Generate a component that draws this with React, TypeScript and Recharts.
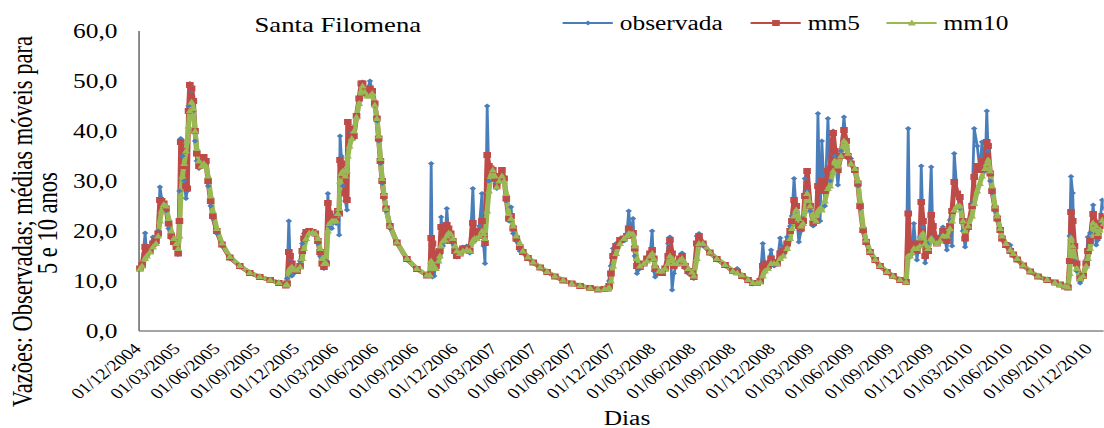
import { Line, LineChart, XAxis, YAxis } from 'recharts';

// the reference is an Excel chart stretched sideways: draw narrow, then scaleX
const S = 1.27;
const W = 1104 / S;
const H = 428;
const FONT = "'Liberation Serif', 'Times New Roman', serif";

const AZUL = '#4A7EBB';
const VERMELHO = '#BE4B48';
const VERDE = '#98B954';

// dias desde 01/12/2004
const dias = [
	0, 5, 12, 16, 23, 30, 37, 42, 46, 50,
	55, 60, 66, 72, 78, 84, 88, 91, 94, 98,
	102, 106, 109, 112, 115, 119, 123, 127, 131, 136,
	142, 147, 152, 157, 163, 168, 177, 189, 207, 230,
	253, 276, 300, 320, 336, 339, 343, 346, 350, 355,
	362, 369, 374, 378, 383, 390, 398, 404, 410, 415,
	420, 424, 429, 433, 437, 442, 447, 452, 456, 459,
	461, 464, 468, 473, 477, 479, 483, 488, 493, 499,
	505, 510, 513, 518, 523, 530, 535, 541, 546, 550,
	554, 558, 562, 567, 576, 592, 615, 638, 661, 668,
	671, 674, 678, 682, 688, 691, 694, 698, 703, 707,
	711, 716, 721, 726, 730, 737, 744, 753, 760, 767,
	771, 776, 782, 788, 792, 795, 800, 804, 808, 813,
	818, 822, 828, 834, 839, 844, 850, 855, 860, 867,
	875, 882, 894, 906, 922, 938, 956, 975, 995, 1014,
	1037, 1055, 1070, 1078, 1081, 1085, 1090, 1097, 1106, 1115,
	1122, 1126, 1131, 1136, 1140, 1145, 1152, 1161, 1168, 1175,
	1180, 1184, 1187, 1196, 1203, 1210, 1217, 1221, 1226, 1230,
	1237, 1244, 1249, 1256, 1263, 1272, 1276, 1283, 1288, 1297,
	1313, 1329, 1348, 1366, 1376, 1387, 1401, 1412, 1422, 1429,
	1435, 1440, 1447, 1454, 1461, 1468, 1475, 1482, 1491, 1498,
	1502, 1507, 1512, 1518, 1523, 1528, 1532, 1537, 1544, 1551,
	1558, 1562, 1567, 1571, 1578, 1585, 1590, 1597, 1601, 1608,
	1615, 1622, 1627, 1631, 1638, 1647, 1654, 1659, 1666, 1673,
	1682, 1694, 1705, 1721, 1735, 1751, 1765, 1770, 1774, 1779,
	1783, 1790, 1797, 1800, 1804, 1809, 1816, 1823, 1827, 1836,
	1843, 1850, 1859, 1866, 1871, 1876, 1883, 1889, 1896, 1901,
	1908, 1917, 1922, 1929, 1935, 1940, 1947, 1951, 1954, 1959,
	1963, 1970, 1975, 1982, 1986, 1995, 2005, 2012, 2021, 2035,
	2051, 2069, 2090, 2108, 2120, 2131, 2138, 2142, 2145, 2149,
	2153, 2158, 2166, 2173, 2180, 2184, 2189, 2196, 2203, 2207,
	2212, 2217, 2221,
];

const observada = [
	12.5, 13.5, 19.6, 15.0, 16.5, 18.8, 17.5, 20.0, 28.8, 26.5,
	25.0, 24.0, 20.5, 18.5, 17.5, 16.5, 15.3, 28.0, 38.5, 35.0,
	30.0, 26.5, 28.0, 45.0, 49.5, 48.0, 44.0, 38.0, 34.0, 32.5,
	33.0, 34.5, 33.5, 29.0, 25.0, 22.5, 19.5, 17.0, 14.5, 12.8,
	11.5, 10.7, 10.1, 9.5, 9.0, 10.5, 22.0, 14.0, 11.0, 11.5,
	12.5, 14.0, 17.5, 19.5, 20.0, 19.8, 19.7, 19.3, 17.5, 15.0,
	13.0, 12.5, 14.0, 27.5, 21.0, 20.5, 23.0, 21.5, 24.0, 19.2,
	39.0, 35.0, 29.0, 26.0, 24.2, 41.5, 40.0, 38.5, 38.5, 43.0,
	46.5, 49.5, 49.8, 47.5, 48.0, 50.0, 48.0, 45.0, 42.0, 38.0,
	33.5, 29.5, 26.5, 24.0, 20.5, 17.5, 14.2, 12.3, 11.0, 11.6,
	33.5, 10.8, 11.0, 13.5, 15.5, 15.5, 22.8, 17.0, 18.0, 24.5,
	19.5, 19.0, 17.5, 15.5, 14.8, 15.5, 16.8, 17.0, 15.6, 28.5,
	18.0, 18.5, 21.0, 27.5, 17.0, 13.5, 45.0, 30.0, 32.0, 32.0,
	30.0, 28.5, 30.5, 32.2, 30.0, 26.0, 22.0, 24.8, 19.5, 18.0,
	16.0, 15.6, 14.5, 13.6, 12.6, 11.7, 10.8, 10.0, 9.4, 9.0,
	8.5, 8.3, 8.4, 8.6, 10.0, 13.0, 16.5, 17.5, 18.5, 18.0,
	19.5, 24.0, 19.0, 22.5, 15.0, 11.5, 12.5, 13.5, 14.2, 15.0,
	20.0, 12.0, 10.8, 11.5, 12.0, 12.5, 17.5, 18.8, 8.2, 11.5,
	13.6, 14.0, 15.6, 12.5, 11.5, 11.0, 10.5, 19.0, 19.5, 17.0,
	15.5, 14.2, 13.0, 11.8, 12.5, 10.8, 10.0, 9.4, 9.6, 10.5,
	17.5, 12.5, 13.5, 16.2, 13.0, 13.5, 18.6, 15.5, 18.8, 21.0,
	23.0, 30.5, 24.0, 17.8, 20.0, 22.5, 30.5, 28.0, 24.0, 21.0,
	22.0, 43.5, 22.0, 38.0, 25.0, 42.5, 30.0, 40.0, 35.0, 29.2,
	36.0, 42.8, 37.5, 34.5, 34.5, 32.0, 29.0, 24.5, 19.8, 17.5,
	15.6, 14.0, 12.8, 11.6, 10.8, 10.1, 9.7, 40.5, 14.8, 15.5,
	21.5, 14.2, 18.8, 33.0, 20.8, 13.6, 17.5, 32.8, 18.2, 17.6,
	19.0, 20.8, 16.2, 22.2, 17.0, 35.5, 27.0, 24.5, 20.0, 16.8,
	20.8, 25.6, 40.5, 37.0, 32.2, 37.8, 32.0, 44.0, 36.0, 30.0,
	27.6, 24.0, 22.2, 20.0, 18.2, 17.0, 17.2, 15.0, 14.2, 13.0,
	11.8, 10.8, 10.2, 9.6, 9.2, 8.9, 8.6, 19.0, 30.9, 27.6,
	14.0, 12.0, 9.6, 11.0, 14.2, 18.8, 19.6, 25.2, 17.2, 18.2,
	22.0, 26.2, 24.5,
];

const mm5 = [
	12.5, 13.2, 16.8, 16.2, 16.0, 17.5, 18.0, 19.5, 26.2, 26.0,
	25.5, 24.5, 21.5, 19.0, 17.8, 16.8, 15.5, 22.0, 37.8, 36.0,
	33.0, 29.0, 28.5, 44.0, 49.2, 48.5, 46.0, 40.0, 35.5, 33.0,
	33.5, 34.8, 34.0, 30.0, 26.0, 23.0, 20.0, 17.3, 14.7, 13.0,
	11.6, 10.8, 10.2, 9.6, 9.1, 9.5, 15.8, 15.0, 13.5, 12.0,
	12.0, 13.0, 16.0, 18.5, 19.8, 20.0, 19.8, 19.5, 18.0, 15.8,
	13.5, 12.8, 13.5, 25.6, 23.5, 22.0, 22.5, 22.0, 24.0, 23.5,
	34.2, 33.5, 31.0, 27.5, 26.2, 41.8, 40.5, 39.0, 39.0, 43.0,
	46.5, 49.5, 49.5, 48.0, 47.5, 48.5, 48.0, 45.5, 42.5, 38.5,
	34.0, 30.0, 27.0, 24.5, 21.0, 17.7, 14.4, 12.4, 11.1, 11.3,
	18.6, 17.5, 14.5, 13.0, 15.5, 16.0, 20.8, 18.5, 18.0, 21.2,
	20.5, 19.5, 18.0, 16.0, 15.0, 15.5, 16.5, 16.5, 16.0, 21.6,
	20.0, 19.0, 20.0, 22.0, 19.0, 17.6, 35.2, 33.0, 32.5, 32.2,
	30.5, 29.0, 31.0, 32.2, 30.5, 26.5, 22.5, 23.0, 20.5, 18.5,
	16.8, 15.8, 14.6, 13.7, 12.7, 11.8, 10.9, 10.1, 9.5, 9.0,
	8.6, 8.3, 8.4, 8.5, 9.0, 11.5, 15.0, 17.0, 18.2, 18.5,
	19.0, 20.5, 19.5, 19.6, 16.5, 13.0, 12.8, 13.5, 14.5, 15.5,
	16.2, 14.5, 12.5, 11.8, 11.6, 12.5, 15.0, 18.2, 15.5, 13.0,
	13.5, 14.5, 15.0, 13.0, 12.0, 11.5, 10.8, 17.5, 19.0, 17.5,
	15.7, 14.4, 13.2, 12.0, 11.8, 11.0, 10.2, 9.6, 9.6, 10.0,
	13.0, 13.5, 13.0, 14.5, 13.8, 13.5, 15.5, 16.0, 17.5, 20.0,
	22.0, 26.2, 25.0, 21.0, 20.5, 22.0, 27.0, 32.0, 25.0, 21.6,
	22.0, 29.0, 28.0, 30.0, 28.0, 32.0, 32.5, 39.6, 36.0, 32.2,
	35.0, 40.2, 38.0, 35.0, 33.5, 32.2, 29.5, 25.0, 20.2, 17.8,
	15.8, 14.2, 13.0, 11.8, 11.0, 10.2, 9.8, 23.5, 16.0, 16.5,
	17.5, 16.0, 17.5, 25.8, 22.0, 15.0, 16.0, 23.2, 21.0, 17.5,
	18.5, 20.0, 18.0, 21.0, 24.0, 29.8, 27.5, 26.8, 22.0, 18.5,
	20.8, 25.0, 30.8, 33.0, 32.2, 34.0, 33.5, 37.8, 37.0, 31.5,
	28.0, 24.5, 22.5, 20.2, 18.5, 17.2, 16.0, 15.3, 14.3, 13.1,
	11.9, 10.9, 10.2, 9.7, 9.3, 8.9, 8.7, 14.0, 23.8, 22.0,
	17.0, 13.5, 10.5, 11.0, 13.5, 16.0, 18.0, 23.4, 21.5, 19.0,
	21.0, 23.0, 22.5,
];

const mm10 = [
	12.5, 13.0, 14.5, 15.0, 15.8, 16.8, 17.5, 19.0, 22.0, 24.0,
	25.3, 25.0, 22.5, 20.0, 18.5, 17.5, 16.5, 19.0, 27.0, 31.0,
	33.5, 36.0, 38.0, 41.0, 44.0, 45.8, 44.5, 40.0, 36.5, 34.0,
	33.0, 33.5, 33.0, 31.0, 27.0, 24.0, 20.5, 17.6, 14.9, 13.1,
	11.7, 10.9, 10.2, 9.7, 9.2, 9.3, 12.0, 12.5, 12.8, 12.3,
	12.2, 12.8, 14.5, 16.5, 18.5, 19.6, 19.7, 19.5, 18.5, 16.5,
	14.5, 13.5, 13.5, 20.0, 21.5, 22.0, 22.0, 22.0, 23.5, 24.5,
	30.0, 31.5, 32.0, 31.0, 32.0, 35.0, 37.0, 38.5, 40.0, 42.8,
	45.5, 48.0, 49.0, 47.8, 47.0, 47.0, 47.5, 45.2, 42.5, 39.0,
	34.5, 30.5, 27.5, 24.5, 21.0, 17.8, 14.5, 12.5, 11.2, 11.2,
	14.0, 13.5, 12.8, 12.5, 14.0, 15.0, 17.0, 18.0, 18.2, 19.0,
	19.6, 19.4, 18.5, 17.0, 16.0, 15.5, 16.0, 16.3, 16.0, 18.0,
	18.5, 18.5, 19.0, 20.0, 19.5, 18.5, 24.0, 28.0, 31.0, 32.2,
	31.0, 28.8, 30.0, 31.0, 30.0, 27.5, 23.5, 22.5, 21.0, 19.0,
	17.5, 16.0, 14.8, 13.8, 12.8, 11.9, 11.0, 10.2, 9.5, 9.1,
	8.6, 8.4, 8.4, 8.5, 8.7, 10.0, 13.0, 15.5, 17.5, 18.5,
	19.0, 19.5, 19.4, 19.4, 17.0, 14.5, 13.0, 13.5, 14.0, 15.0,
	15.5, 14.5, 13.0, 12.0, 12.0, 12.5, 13.5, 15.0, 14.5, 13.5,
	13.5, 14.2, 14.5, 13.5, 12.5, 11.8, 11.0, 14.5, 17.5, 17.5,
	15.8, 14.5, 13.3, 12.0, 11.6, 11.2, 10.3, 9.7, 9.6, 9.8,
	11.0, 12.0, 12.5, 13.5, 13.5, 13.5, 14.5, 15.0, 16.5, 18.5,
	20.5, 23.0, 24.2, 22.5, 21.0, 21.5, 24.0, 27.5, 25.0, 22.5,
	22.0, 24.0, 24.5, 24.2, 26.0, 28.5, 29.0, 32.0, 34.0, 33.0,
	35.0, 38.0, 37.5, 35.5, 33.5, 32.5, 30.0, 26.0, 21.0, 18.2,
	16.0, 14.3, 13.1, 11.9, 11.0, 10.3, 9.8, 15.0, 15.0, 15.6,
	16.5, 16.5, 17.0, 19.0, 19.5, 17.5, 16.5, 18.5, 18.0, 17.5,
	18.0, 19.0, 19.0, 20.5, 22.0, 24.2, 25.0, 25.0, 22.0, 20.0,
	21.0, 23.0, 25.5, 28.0, 29.5, 31.0, 32.5, 33.5, 34.2, 32.0,
	29.0, 25.0, 23.0, 20.5, 19.0, 17.5, 16.2, 15.5, 14.5, 13.2,
	12.0, 11.0, 10.3, 9.7, 9.3, 9.0, 8.8, 11.5, 18.6, 17.0,
	15.0, 12.5, 10.5, 11.0, 13.0, 14.5, 16.5, 21.6, 21.0, 19.5,
	20.2, 22.2, 21.5,
];

const rotulos = [
	'01/12/2004', '01/03/2005', '01/06/2005', '01/09/2005', '01/12/2005',
	'01/03/2006', '01/06/2006', '01/09/2006', '01/12/2006', '01/03/2007',
	'01/06/2007', '01/09/2007', '01/12/2007', '01/03/2008', '01/06/2008',
	'01/09/2008', '01/12/2008', '01/03/2009', '01/06/2009', '01/09/2009',
	'01/12/2009', '01/03/2010', '01/06/2010', '01/09/2010', '01/12/2010',
];

const yTicks = [0, 10, 20, 30, 40, 50, 60];

const diaDe = (s: string) => {
	const [d, m, a] = s.split('/').map(Number);
	return Math.round((Date.UTC(a, m - 1, d) - Date.UTC(2004, 11, 1)) / 86400000);
};
const tickDias = rotulos.map(diaDe);

const data = dias.map((dia, i) => ({
	dia,
	observada: observada[i],
	mm5: mm5[i],
	mm10: mm10[i],
}));

const losango = (x: number, y: number, r: number) =>
	`M${x},${y - r}L${x + r},${y}L${x},${y + r}L${x - r},${y}Z`;
const triangulo = (x: number, y: number) =>
	`M${x},${y - 3.6}L${x + 3.2},${y + 2.6}L${x - 3.2},${y + 2.6}Z`;

const DotObs = (p: any) => <path key={`o${p.index}`} d={losango(p.cx, p.cy, 2.6)} fill={AZUL} />;
const DotMm5 = (p: any) => (
	<rect key={`r${p.index}`} x={p.cx - 3} y={p.cy - 3} width={6} height={6} fill={VERMELHO} />
);
const DotMm10 = (p: any) => <path key={`g${p.index}`} d={triangulo(p.cx, p.cy)} fill={VERDE} />;

const DateTick = ({ x, y, payload }: any) => (
	<g transform={`translate(${x - 2},${y + 15})`}>
		<text
			textAnchor='end'
			transform='rotate(-45)'
			dy='0.35em'
			fontSize={15.5}
			fontFamily={FONT}
			fill='#000'
		>
			{rotulos[tickDias.indexOf(payload.value)]}
		</text>
	</g>
);

const legenda = [
	{ nome: 'observada', cor: AZUL, x: 443 },
	{ nome: 'mm5', cor: VERMELHO, x: 591 },
	{ nome: 'mm10', cor: VERDE, x: 698 },
];

const App = () => {
	return (
		<div
			style={{
				position: 'absolute',
				left: 0,
				top: 0,
				width: W,
				height: H,
				background: '#fff',
				transform: `scaleX(${S})`,
				transformOrigin: '0 0',
			}}
		>
			<LineChart
				width={W}
				height={H}
				data={data}
				margin={{ top: 31, right: 0, bottom: 0, left: 0 }}
			>
				<XAxis
					type='number'
					dataKey='dia'
					domain={[-2, 2221]}
					ticks={tickDias}
					interval={0}
					tick={<DateTick />}
					tickLine={false}
					tickSize={0}
					tickMargin={0}
					height={97}
					axisLine={{ stroke: '#868686', strokeWidth: 1.5 }}
				/>
				<YAxis
					type='number'
					domain={[0, 60]}
					ticks={yTicks}
					width={109.5}
					tickLine={false}
					tickSize={0}
					tickMargin={17}
					tickFormatter={(v: number) => v.toFixed(1).replace('.', ',')}
					tick={{ fontSize: 20, fontFamily: FONT, fill: '#000' }}
					axisLine={{ stroke: '#868686', strokeWidth: 1.5 }}
				/>
				<Line
					type='linear'
					dataKey='observada'
					stroke={AZUL}
					strokeWidth={2.2}
					strokeLinejoin='round'
					dot={DotObs}
					activeDot={false}
					isAnimationActive={false}
				/>
				<Line
					type='linear'
					dataKey='mm5'
					stroke={VERMELHO}
					strokeWidth={4}
					strokeLinejoin='round'
					dot={DotMm5}
					activeDot={false}
					isAnimationActive={false}
				/>
				<Line
					type='linear'
					dataKey='mm10'
					stroke={VERDE}
					strokeWidth={4}
					strokeLinejoin='round'
					dot={DotMm10}
					activeDot={false}
					isAnimationActive={false}
				/>
			</LineChart>
			<svg
				width={W}
				height={H}
				style={{ position: 'absolute', left: 0, top: 0, pointerEvents: 'none' }}
				fontFamily={FONT}
			>
				<text x={266} y={32} textAnchor='middle' fontSize={21}>
					Santa Filomena
				</text>
				{legenda.map((l) => (
					<g key={l.nome}>
						<line x1={l.x} x2={l.x + 39.5} y1={23} y2={23} stroke={l.cor} strokeWidth={2.2} />
						{l.nome === 'observada' && <path d={losango(l.x + 20, 23, 2.4)} fill={l.cor} />}
						{l.nome === 'mm5' && <rect x={l.x + 17} y={20} width={6} height={6} fill={l.cor} />}
						{l.nome === 'mm10' && <path d={triangulo(l.x + 20, 23)} fill={l.cor} />}
						<text x={l.x + 45} y={30} fontSize={20}>
							{l.nome}
						</text>
					</g>
				))}
				{/* eixo y: duas linhas verticais, começando de baixo */}
				<g transform='translate(25,407) rotate(-90)'>
					<text x={0} y={0} fontSize={22.5}>
						Vazões: Observadas; médias móveis para
					</text>
				</g>
				<g transform='translate(44.5,274) rotate(-90)'>
					<text x={0} y={0} fontSize={22.5}>
						5 e 10 anos
					</text>
				</g>
				<text x={493.7} y={425} textAnchor='middle' fontSize={20}>
					Dias
				</text>
			</svg>
		</div>
	);
};

export default App;
